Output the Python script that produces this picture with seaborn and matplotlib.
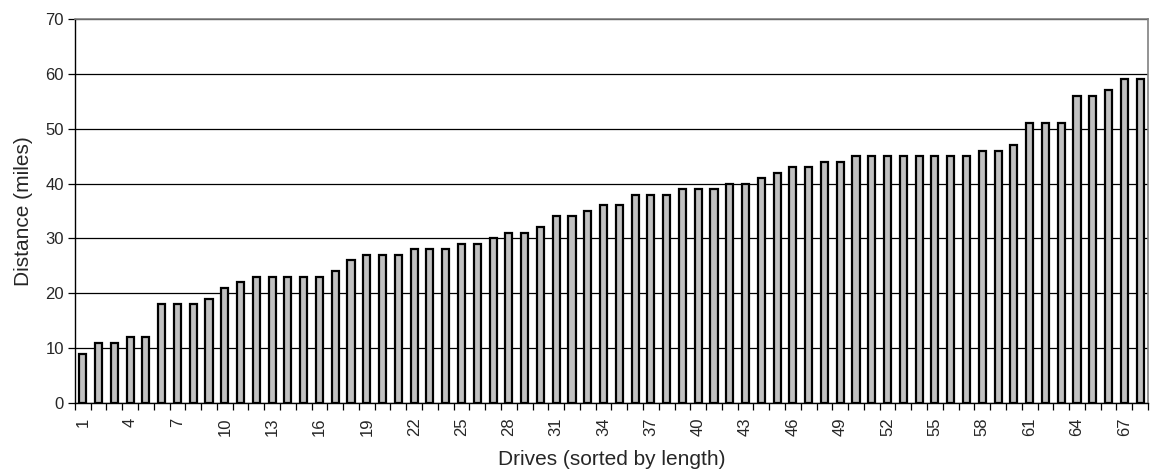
import numpy as np
import pandas as pd
import matplotlib
matplotlib.use('Agg')
import matplotlib.pyplot as plt
import seaborn as sns

# distances, drives sorted by length
drives = list(range(1, 69))
distance = [9, 11, 11, 12, 12, 18, 18, 18, 19, 21,
            22, 23, 23, 23, 23, 23, 24, 26, 27, 27,
            27, 28, 28, 28, 29, 29, 30, 31, 31, 32,
            34, 34, 35, 36, 36, 38, 38, 38, 39, 39,
            39, 40, 40, 41, 42, 43, 43, 44, 44, 45,
            45, 45, 45, 45, 45, 45, 45, 46, 46, 47,
            51, 51, 51, 56, 56, 57, 59, 59]
y_ticks = [0, 10, 20, 30, 40, 50, 60, 70]

df = pd.DataFrame({'drive': [str(d) for d in drives], 'distance': distance})

sns.set_style('white')
plt.rcParams['font.family'] = ['Liberation Sans', 'DejaVu Sans']

fig = plt.figure(figsize=(11.52, 4.70), dpi=100)
ax = fig.add_axes([0.065, 0.1426, 0.9315, 0.817])

sns.barplot(data=df, x='drive', y='distance', order=df['drive'],
            color='#C0C0C0', edgecolor='black', linewidth=1.6,
            width=0.45, saturation=1, ax=ax, zorder=3)

ax.set_ylim(0, 70)
ax.set_xlim(-0.5, len(drives) - 0.5)
ax.set_yticks(y_ticks)
ax.yaxis.grid(True, color='black', linewidth=0.9, zorder=0)
ax.set_axisbelow(True)

# tick marks between categories, labels every third drive
ax.set_xticks(np.arange(len(drives) + 1) - 0.5)
ax.set_xticklabels([])
ax.set_xticks(np.arange(0, len(drives), 3), minor=True)
ax.set_xticklabels([str(d) for d in drives[::3]], minor=True, rotation=90)
ax.tick_params(axis='x', which='major', length=5, width=0.9, color='black', direction='out')
ax.tick_params(axis='x', which='minor', length=0, pad=10.5, labelsize=12)
ax.tick_params(axis='y', length=5, width=0.9, color='black', direction='out',
               labelsize=12, pad=3)
ax.tick_params(bottom=True, left=True)

for side in ['top', 'right']:
    ax.spines[side].set_color('#808080')
    ax.spines[side].set_linewidth(1.2)
for side in ['left', 'bottom']:
    ax.spines[side].set_color('black')
    ax.spines[side].set_linewidth(1.0)

ax.set_xlabel('Drives (sorted by length)', fontsize=15, labelpad=10)
ax.set_ylabel('Distance (miles)', fontsize=15, labelpad=9)

plt.savefig('out.png', dpi=100)
